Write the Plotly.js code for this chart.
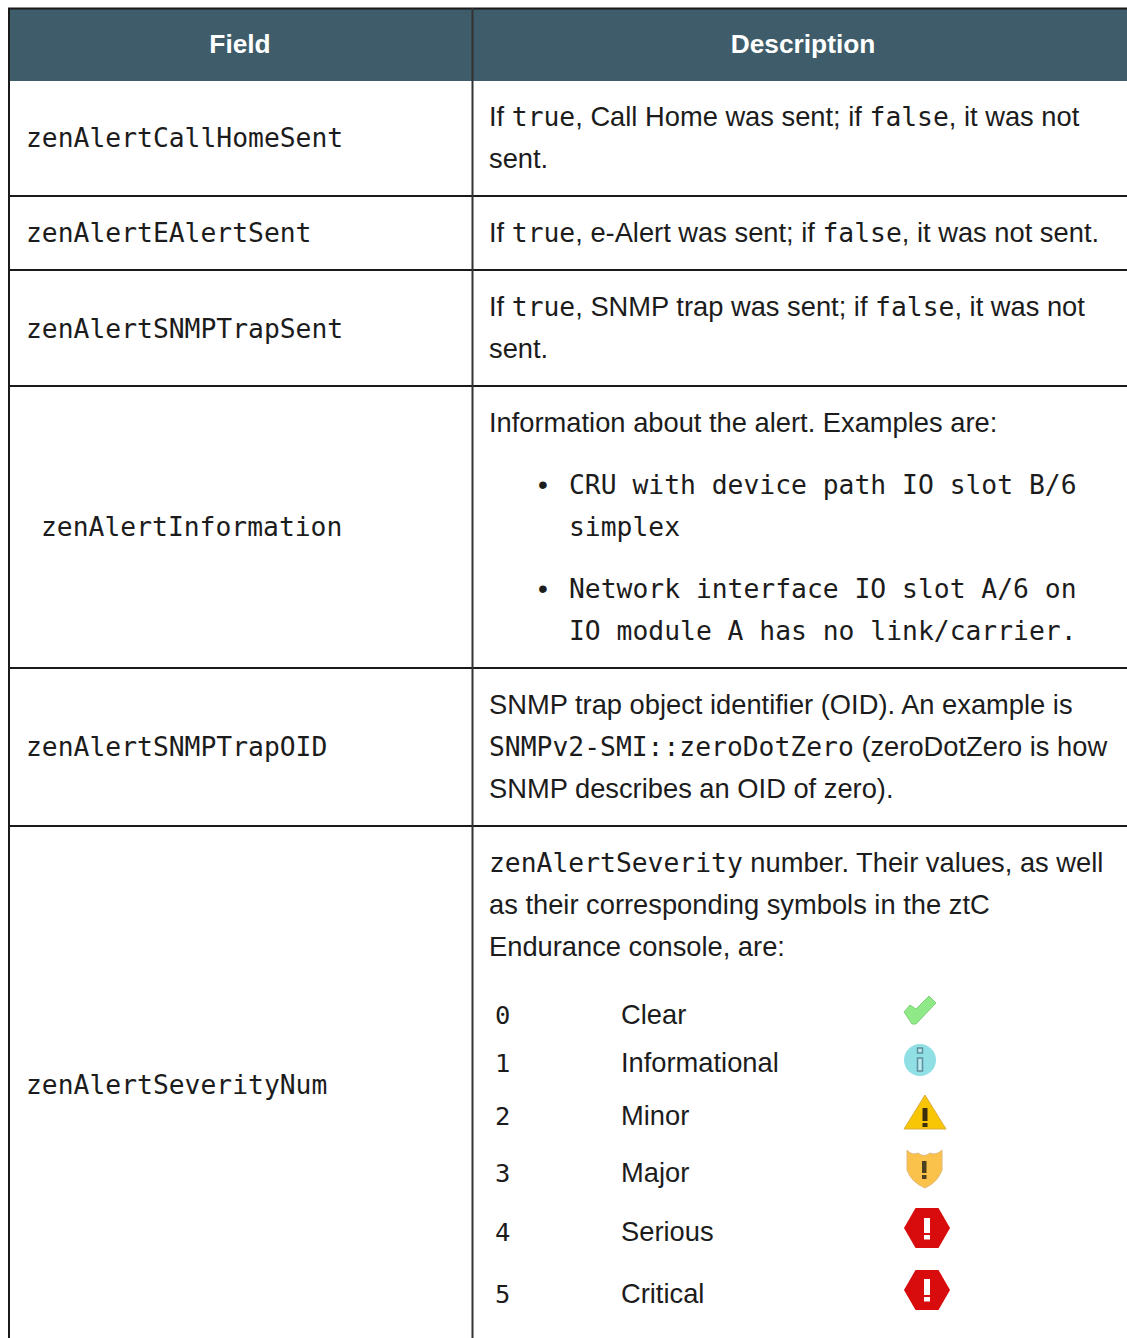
<!DOCTYPE html>
<html><head><meta charset="utf-8">
<script src="https://cdn.plot.ly/plotly-3.0.1.min.js"></script>
<style>html,body{margin:0;padding:0;background:#fff;overflow:hidden}#c{width:1127px;height:1338px}</style>
</head><body><div id="c"></div>
<script>
const headers = ["Field", "Description"];
const fieldNames = ["zenAlertCallHomeSent","zenAlertEAlertSent","zenAlertSNMPTrapSent","zenAlertInformation","zenAlertSNMPTrapOID","zenAlertSeverityNum"];
const descLines = [
  "If |true|, Call Home was sent; if |false|, it was not", "sent.",
  "If |true|, e-Alert was sent; if |false|, it was not sent.",
  "If |true|, SNMP trap was sent; if |false|, it was not", "sent.",
  "Information about the alert. Examples are:",
  "|SNMPv2-SMI::zeroDotZero| (zeroDotZero is how",
  "SNMP trap object identifier (OID). An example is",
  "SNMP describes an OID of zero).",
  "|zenAlertSeverity| number. Their values, as well",
  "as their corresponding symbols in the ztC",
  "Endurance console, are:"
];
const bulletLines = ["CRU with device path IO slot B/6","simplex","Network interface IO slot A/6 on","IO module A has no link/carrier."];
const severityNums = ["0","1","2","3","4","5"];
const severityNames = ["Clear","Informational","Minor","Major","Serious","Critical"];

// layout geometry (page pixels)
const fieldY = [140,235,331,529,749,1087];
const fieldX = [26,26,26,41,26,26];
const descY = [119,161,235,309,351,425,749,707,791,865,907,949];
const bulletY = [487,529,591,633];
const severityY = [1017,1065,1118,1175,1234,1296];
const rowEdges = [81,196,270,386,668,826];
const MONO = "DejaVu Sans Mono", SANS = "Liberation Sans", INK = "#1c1c1c";
const SANS_SIZE = 27.3, MONO_SIZE = 26.35;

const withMono = s => s.split("|").map((p,i)=> i%2 ? `<span style="font-family:'${MONO}';font-size:${MONO_SIZE}px">${p}</span>` : p).join("");
const textTrace = (x,y,text,font,size,pos,color,extra) => Object.assign({type:"scatter",mode:"text",x,y,text,
  textposition:pos||"middle right",textfont:{family:font,size,color:color||INK},hoverinfo:"skip",showlegend:false,cliponaxis:false},extra||{});

const data = [
  textTrace([240,803],[46,46],headers,SANS,26.3,"middle center","#ffffff",{textfont:{family:SANS,size:26.3,color:"#ffffff",weight:700}}),
  textTrace(fieldX,fieldY,fieldNames,MONO,MONO_SIZE),
  textTrace(descY.map(()=>489),descY,descLines.map(withMono),SANS,SANS_SIZE),
  textTrace(bulletY.map(()=>569),bulletY,bulletLines,MONO,MONO_SIZE),
  textTrace([543,543],[487,591],["•","•"],SANS,28,"middle center"),
  textTrace(severityY.map(()=>495),severityY.map(y=>y+1),severityNums,MONO,25.5),
  textTrace(severityY.map(()=>621),severityY,severityNames,SANS,SANS_SIZE),
  {type:"scatter",mode:"markers",x:[920],y:[1060],marker:{symbol:"circle",size:32,color:"#8fdfe4",line:{width:0}},hoverinfo:"skip",showlegend:false},
  {type:"scatter",mode:"markers",x:[927,927],y:[1228,1290],marker:{symbol:"hexagon2",size:46,color:"#d80c0c",line:{width:0}},hoverinfo:"skip",showlegend:false}
];

const rect=(x0,y0,x1,y1,fill,line,layer)=>({type:"rect",xref:"x",yref:"y",x0,y0,x1,y1,fillcolor:fill,line:line?{color:line,width:1.5}:{width:0},layer:layer||"above"});
const poly=(d,fill,line,w)=>({type:"path",xref:"x",yref:"y",path:d,fillcolor:fill,line:line?{color:line,width:w||1}:{width:0},layer:"below"});
const hline=(y)=>({type:"line",xref:"x",yref:"y",x0:8,x1:1127,y0:y,y1:y,line:{color:"#1a1a1a",width:2},layer:"above"});
const shapes=[
  rect(9,9,1127,81,"#3e5c69",null,"below"),
  hline(8.5),
  ...rowEdges.slice(1).map(hline),
  {type:"line",xref:"x",yref:"y",x0:9,x1:9,y0:8,y1:1338,line:{color:"#1a1a1a",width:2},layer:"above"},
  {type:"line",xref:"x",yref:"y",x0:472.5,x1:472.5,y0:8,y1:1338,line:{color:"#333333",width:2},layer:"above"},
  poly("M904,1012 L910,1005 L916,1009 L929,996 L936,1003 L916,1024 L912,1024 Z","#8fe987","#82cf7c",1),
  rect(917.5,1058,922.5,1071,"#b9e9ec","#5f8f9a"),
  rect(917.5,1048,922.5,1053,"#b9e9ec","#5f8f9a"),
  poly("M925,1095 L946,1129 L904,1129 Z","#f9c606","#d8ae3a",1),
  rect(922.5,1108,927.5,1121,"#3a3010"),
  rect(922.5,1123,927.5,1127,"#3a3010"),
  poly("M907,1150 Q912,1156 918,1153 Q924,1158 930,1153 Q936,1156 942,1150 L942,1170 Q938,1182 925,1188 Q911,1182 907,1170 Z","#fbc24b","#e2b878",1),
  rect(922,1161,926.5,1173,"#4a4020"),
  rect(922,1175,926.5,1179,"#4a4020"),
  rect(924,1218,930,1233,"#ffffff"),
  rect(924,1235,930,1239.5,"#ffffff"),
  rect(924,1279,930,1295,"#ffffff"),
  rect(924,1297,930,1301.5,"#ffffff")
];
const layout={width:1127,height:1338,margin:{l:0,r:0,t:0,b:0,pad:0},paper_bgcolor:"#fff",plot_bgcolor:"#fff",showlegend:false,
  xaxis:{range:[0,1127],visible:false,fixedrange:true},yaxis:{range:[1338,0],visible:false,fixedrange:true},shapes};
Plotly.newPlot("c",data,layout,{displayModeBar:false,staticPlot:true});
</script></body></html>
